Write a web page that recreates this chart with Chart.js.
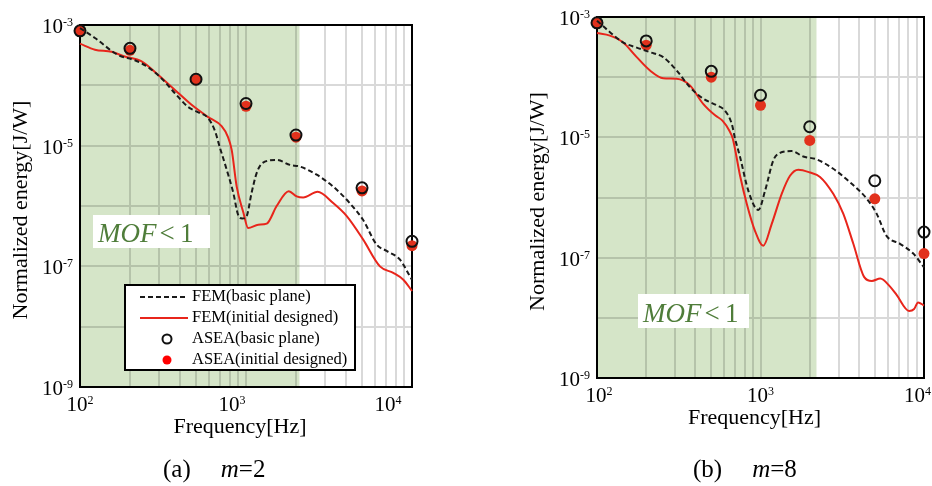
<!DOCTYPE html>
<html>
<head>
<meta charset="utf-8">
<script src="https://cdn.jsdelivr.net/npm/chart.js@4.4.1/dist/chart.umd.min.js"></script>
<style>
  body { margin: 0; background: #fff; width: 932px; height: 486px; overflow: hidden; }
  .pane { position: absolute; top: 0; width: 466px; height: 486px; }
  .cap { position: absolute; top: 456px; font: 25px/25px "Liberation Serif", serif; color: #000; white-space: nowrap; }
  .cap i { margin-left: 30px; }
</style>
</head>
<body>
<div class="pane" style="left:0"><canvas id="chartA" width="466" height="486"></canvas></div>
<div class="pane" style="left:466px"><canvas id="chartB" width="466" height="486"></canvas></div>
<div class="cap" style="left:163px">(a)<i>m</i>=2</div>
<div class="cap" style="left:693px">(b)<i>m</i>=8</div>
<script>
// ---- data (a) m=2 ----
const femBasicFreqA = [100, 123, 169, 214, 257, 310, 373, 447, 513, 589, 648, 697, 765, 838, 897, 950, 1009, 1081, 1159, 1260, 1530, 1840, 2110, 2665, 3350, 4236, 5070, 6120, 7030, 8470, 9730, 10000];
const femBasicA = [8.9e-4, 6.1e-4, 3.2e-4, 2.6e-4, 2.0e-4, 1.3e-4, 7.4e-5, 4.4e-5, 3.6e-5, 2.9e-5, 1.8e-5, 9.2e-6, 4.0e-6, 1.66e-6, 7.1e-7, 6.2e-7, 6.8e-7, 1.66e-6, 3.5e-6, 5.2e-6, 5.8e-6, 4.8e-6, 4.5e-6, 3.3e-6, 2.1e-6, 1.1e-6, 5.9e-7, 2.3e-7, 1.8e-7, 1.29e-7, 6.8e-8, 6.0e-8];
const femInitFreqA = [100, 123, 155, 186, 235, 295, 373, 468, 589, 713, 778, 820, 879, 964, 1030, 1186, 1333, 1530, 1810, 2020, 2210, 2700, 3350, 4045, 5070, 6410, 7710, 8870, 10000];
const femInitA = [4.9e-4, 3.9e-4, 3.6e-4, 3.0e-4, 2.5e-4, 1.5e-4, 8.4e-5, 4.8e-5, 3.0e-5, 2.1e-5, 1.4e-5, 8.5e-6, 2.1e-6, 7.8e-7, 4.3e-7, 4.9e-7, 5.1e-7, 1.0e-6, 1.76e-6, 1.44e-6, 1.38e-6, 1.72e-6, 1.12e-6, 6.8e-7, 2.8e-7, 1.0e-7, 7.8e-8, 6.0e-8, 3.9e-8];
const aseaFreq = [100, 200, 500, 1000, 2000, 5000, 10000];
const aseaBasicA = [8.0e-4, 4.1e-4, 1.26e-4, 5.0e-5, 1.5e-5, 2.0e-6, 2.6e-7];
const aseaInitA = [8.0e-4, 3.8e-4, 1.23e-4, 4.5e-5, 1.38e-5, 1.78e-6, 2.2e-7];
const mofEndA = 2100;

// ---- data (b) m=8 ----
const femBasicFreqB = [100, 120, 144, 175, 211, 254, 307, 370, 446, 540, 604, 666, 699, 750, 842, 970, 1067, 1200, 1316, 1550, 1827, 2205, 2786, 3520, 4457, 5130, 5900, 7130, 8600, 10000];
const femBasicB = [8.7e-4, 5.6e-4, 3.8e-4, 3.1e-4, 2.6e-4, 2.15e-4, 1.29e-4, 6.8e-5, 4.4e-5, 3.4e-5, 2.8e-5, 1.7e-5, 9.5e-6, 4.7e-6, 1.3e-6, 6.2e-7, 1.3e-6, 4.2e-6, 5.5e-6, 5.9e-6, 4.8e-6, 4.3e-6, 3.0e-6, 1.8e-6, 9.6e-7, 5.4e-7, 2.3e-7, 1.7e-7, 1.17e-7, 6.9e-8];
const femInitFreqB = [100, 120, 144, 175, 211, 254, 307, 370, 446, 530, 585, 644, 677, 750, 824, 925, 1040, 1170, 1348, 1515, 1702, 2010, 2312, 2786, 3207, 3696, 4300, 4800, 5400, 6200, 6800, 8100, 8700, 9200, 10000];
const femInitB = [5.4e-4, 4.9e-4, 3.8e-4, 2.15e-4, 1.29e-4, 9.6e-5, 9.4e-5, 7.3e-5, 3.6e-5, 2.3e-5, 1.9e-5, 1.3e-5, 9.5e-6, 2.3e-6, 7.9e-7, 2.8e-7, 1.58e-7, 3.6e-7, 1.15e-6, 2.3e-6, 2.9e-6, 2.6e-6, 2.2e-6, 1.15e-6, 5.4e-7, 1.7e-7, 4.8e-8, 4.1e-8, 4.5e-8, 3.3e-8, 2.4e-8, 1.3e-8, 1.4e-8, 1.8e-8, 1.6e-8];
const aseaBasicB = [8.0e-4, 4.0e-4, 1.25e-4, 5.0e-5, 1.5e-5, 1.9e-6, 2.66e-7];
const aseaInitB = [7.9e-4, 3.4e-4, 1.0e-4, 3.4e-5, 8.9e-6, 9.5e-7, 1.17e-7];
const mofEndB = 2200;

// axes
const xLabelExps = [2, 3, 4];
const yLabelExps = [-3, -5, -7, -9];
const xGrid = [];
for (let d = 100; d < 10000; d *= 10) for (let k = 1; k < 10; k++) xGrid.push(k * d);
xGrid.push(10000);
const yGrid = [1e-9, 1e-8, 1e-7, 1e-6, 1e-5, 1e-4, 1e-3];

const FONT = '"Liberation Serif", "Times New Roman", serif';
const pts = (xs, ys) => xs.map((x, i) => ({x: x, y: ys[i]}));

// "10" with a raised exponent; returns nothing, draws at (x, baseline y)
function drawPow(ctx, exp, x, y, align, maxRight) {
    ctx.font = '21px ' + FONT;
    const wb = ctx.measureText('10').width;
    ctx.font = '12px ' + FONT;
    const ws = ctx.measureText(String(exp)).width;
    let x0 = align === 'right' ? x - wb - ws : x - (wb + ws) / 2;
    if (maxRight && x0 + wb + ws > maxRight) x0 = maxRight - wb - ws;
    ctx.textAlign = 'left';
    ctx.textBaseline = 'alphabetic';
    ctx.font = '21px ' + FONT;
    ctx.fillText('10', x0, y);
    ctx.font = '12px ' + FONT;
    ctx.fillText(String(exp), x0 + wb, y - 7);
}

function panelPlugin(p) {
    return {
        id: 'panel',
        beforeDatasetsDraw(chart) {
            const {ctx, chartArea: a, scales: {x}} = chart;
            ctx.save();
            // green band (multiply so the grid shows through darker)
            ctx.globalCompositeOperation = 'multiply';
            ctx.fillStyle = '#d5e5c8';
            ctx.fillRect(a.left, a.top, x.getPixelForValue(p.mofEnd) - a.left, a.bottom - a.top);
            ctx.globalCompositeOperation = 'source-over';
            ctx.strokeStyle = '#000';
            ctx.lineWidth = 2;
            ctx.strokeRect(a.left, a.top, a.right - a.left, a.bottom - a.top);
            ctx.restore();
        },
        afterDraw(chart) {
            const {ctx, chartArea: a, scales: {x, y}} = chart;
            ctx.save();
            ctx.fillStyle = '#000';
            yLabelExps.forEach(e => drawPow(ctx, e, a.left - 7, y.getPixelForValue(Math.pow(10, e)) + 8, 'right'));
            xLabelExps.forEach((e, i) => drawPow(ctx, e, x.getPixelForValue(Math.pow(10, e)) + p.xLabelShift[i],
                a.bottom + 24, 'center', chart.width - 1));

            // axis titles
            ctx.font = '22px ' + FONT;
            ctx.textAlign = 'center';
            ctx.textBaseline = 'alphabetic';
            ctx.fillText('Frequency[Hz]', (a.left + a.right) / 2 - 6, a.bottom + 46);
            ctx.save();
            ctx.translate(a.left - 59, (a.top + a.bottom) / 2 + 4);
            ctx.rotate(-Math.PI / 2);
            ctx.textBaseline = 'middle';
            ctx.fillText('Normalized energy[J/W]', 0, 0);
            ctx.restore();

            // MOF < 1 label
            const b = p.mofBox;
            ctx.fillStyle = '#fff';
            ctx.fillRect(a.left + b.dx, a.top + b.dy, b.w, b.h);
            ctx.fillStyle = '#4f7d3a';
            ctx.textAlign = 'left';
            ctx.textBaseline = 'alphabetic';
            const tx = a.left + b.dx + 5, ty = a.top + b.dy + b.h - 6;
            ctx.font = 'italic 27px ' + FONT;
            const wm = ctx.measureText('MOF').width;
            ctx.fillText('MOF', tx, ty);
            ctx.font = '27px ' + FONT;
            ctx.fillText('<\u20091', tx + wm + 3, ty);

            // legend
            if (p.legend) {
                const L = p.legend;
                const lx = a.left + L.dx, ly = a.top + L.dy;
                ctx.fillStyle = '#fff';
                ctx.fillRect(lx, ly, L.w, L.h);
                ctx.strokeStyle = '#000';
                ctx.lineWidth = 2;
                ctx.strokeRect(lx, ly, L.w, L.h);
                chart.data.datasets.forEach((ds, i) => {
                    const ry = ly + 12 + i * 21;
                    if (ds.showLine !== false) {
                        ctx.strokeStyle = ds.borderColor;
                        ctx.lineWidth = ds.borderWidth;
                        ctx.setLineDash(ds.borderDash || []);
                        ctx.beginPath();
                        ctx.moveTo(lx + 15, ry);
                        ctx.lineTo(lx + 63, ry);
                        ctx.stroke();
                        ctx.setLineDash([]);
                    } else {
                        ctx.beginPath();
                        ctx.arc(lx + 42, ry, ds.pointRadius - 1, 0, Math.PI * 2);
                        if (ds.pointBorderWidth) {
                            ctx.strokeStyle = ds.pointBorderColor;
                            ctx.lineWidth = ds.pointBorderWidth;
                            ctx.stroke();
                        } else {
                            ctx.fillStyle = '#ff0000';
                            ctx.fill();
                        }
                    }
                    ctx.fillStyle = '#000';
                    ctx.font = '16.5px ' + FONT;
                    ctx.textBaseline = 'middle';
                    ctx.fillText(ds.label, lx + 67, ry);
                });
            }
            ctx.restore();
        }
    };
}

function makeChart(id, p) {
    const logAxis = (min, max, grid) => ({
        type: 'logarithmic', min: min, max: max,
        afterBuildTicks: s => { s.ticks = grid.map(v => ({value: v})); },
        ticks: {display: false},
        grid: {color: '#d9d9d9', lineWidth: 2, drawTicks: false},
        border: {display: false}
    });
    return new Chart(document.getElementById(id), {
        type: 'line',
        data: {
            datasets: [
                {
                    label: 'FEM(basic plane)',
                    data: pts(p.basicFreq, p.basic),
                    borderColor: '#1a1a1a', borderWidth: 2, borderDash: [5, 3],
                    pointRadius: 0, cubicInterpolationMode: 'monotone', clip: false
                },
                {
                    label: 'FEM(initial designed)',
                    data: pts(p.initFreq, p.init),
                    borderColor: '#e8251b', borderWidth: 2,
                    pointRadius: 0, cubicInterpolationMode: 'monotone', clip: false
                },
                {
                    label: 'ASEA(basic plane)',
                    data: pts(aseaFreq, p.aseaBasic),
                    showLine: false, pointRadius: 5.5, pointBorderWidth: 2,
                    pointBorderColor: '#111', pointBackgroundColor: 'rgba(0,0,0,0)', clip: false
                },
                {
                    label: 'ASEA(initial designed)',
                    data: pts(aseaFreq, p.aseaInit),
                    showLine: false, pointRadius: 5.5, pointBorderWidth: 0,
                    pointBackgroundColor: '#e2311c', pointBorderColor: '#e2311c', clip: false
                }
            ]
        },
        options: {
            responsive: false,
            animation: false,
            devicePixelRatio: 1,
            layout: {padding: p.padding},
            plugins: {legend: {display: false}, tooltip: {enabled: false}},
            scales: {
                x: logAxis(100, 10000, xGrid),
                y: logAxis(1e-9, 1e-3, yGrid)
            }
        },
        plugins: [panelPlugin(p)]
    });
}

makeChart('chartA', {
    basicFreq: femBasicFreqA, basic: femBasicA,
    initFreq: femInitFreqA, init: femInitA,
    aseaBasic: aseaBasicA, aseaInit: aseaInitA,
    mofEnd: mofEndA,
    padding: {left: 80, right: 54, top: 25, bottom: 99},
    xLabelShift: [0, -14, -24],
    mofBox: {dx: 13, dy: 190, w: 117, h: 33},
    legend: {dx: 45, dy: 260, w: 230, h: 85}
});

makeChart('chartB', {
    basicFreq: femBasicFreqB, basic: femBasicB,
    initFreq: femInitFreqB, init: femInitB,
    aseaBasic: aseaBasicB, aseaInit: aseaInitB,
    mofEnd: mofEndB,
    padding: {left: 131, right: 8, top: 17, bottom: 108},
    xLabelShift: [2, 0, 0],
    mofBox: {dx: 41, dy: 277, w: 111, h: 34},
    legend: null
});
</script>
</body>
</html>
